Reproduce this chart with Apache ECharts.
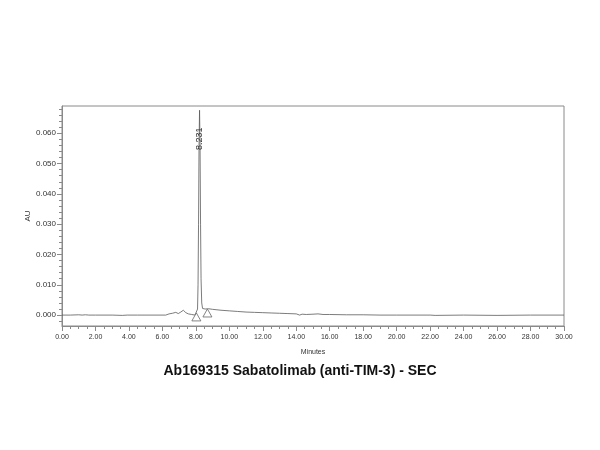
<!DOCTYPE html>
<html>
<head>
<meta charset="utf-8">
<script src="https://cdn.jsdelivr.net/npm/echarts@6/dist/echarts.min.js"></script>
<style>
  html, body { margin: 0; padding: 0; background: #fff; }
  #main { width: 600px; height: 450px; }
</style>
</head>
<body>
<div id="main"></div>
<script>
"use strict";

// chromatogram trace (minutes / AU)
var times = [
  0.0, 0.5, 1.0, 1.2, 1.4, 1.6, 2.0, 3.0, 3.6, 3.9, 4.5, 5.5,
  6.2, 6.4, 6.6, 6.8, 6.95, 7.1, 7.25, 7.4, 7.55, 7.75, 7.95,
  8.06, 8.1, 8.13, 8.16, 8.19, 8.22, 8.25, 8.28, 8.31, 8.35, 8.4,
  8.55, 8.75, 9.0, 9.5, 10.0, 10.5, 11.0, 11.5, 12.0, 12.5, 13.0,
  13.5, 14.0, 14.2, 14.35, 14.6, 15.0, 15.3, 15.6, 16.0, 17.0,
  18.0, 19.0, 20.0, 22.0, 22.3, 24.0, 26.0, 28.0, 30.0
];
var absorbance = [
  0.0, 0.0, 0.0001, 0.0, 0.0001, 0.0, 0.0, 0.0, -0.0001, 0.0, 0.0, 0.0,
  0.0, 0.0004, 0.0006, 0.0009, 0.0005, 0.001, 0.0016, 0.0008, 0.0004, 0.0002, 0.0,
  0.0003, 0.002, 0.01, 0.03, 0.056, 0.0676, 0.056, 0.03, 0.012, 0.004, 0.0022,
  0.002, 0.0021, 0.0019, 0.0016, 0.0014, 0.0012, 0.001, 0.0009, 0.0008, 0.0007, 0.0006,
  0.0005, 0.0004, 0.0, 0.0003, 0.0002, 0.0003, 0.0004, 0.0002, 0.0002, 0.0001,
  0.0001, 0.0, 0.0, 0.0, -0.0001, 0.0, -0.0001, 0.0, 0.0
];

var peakTime = 8.231;
var peakLabel = "8.231";
var peakLabelAU = 0.0582;
// integration start / end markers [minutes, AU]
var baselineMarks = [[8.03, -0.0006], [8.69, 0.0007]];

var yMajorTicks = [0, 0.01, 0.02, 0.03, 0.04, 0.05, 0.06];
var yMinorTicks = [
  -0.002, 0.002, 0.004, 0.006, 0.008, 0.012, 0.014, 0.016, 0.018,
  0.022, 0.024, 0.026, 0.028, 0.032, 0.034, 0.036, 0.038,
  0.042, 0.044, 0.046, 0.048, 0.052, 0.054, 0.056, 0.058,
  0.062, 0.064, 0.066, 0.068
];
var yMin = -0.0036;
var yMax = 0.069;

var chartTitle = "Ab169315 Sabatolimab (anti-TIM-3) - SEC";

var trace = times.map(function (t, i) { return [t, absorbance[i]]; });

var font = "Liberation Sans";
var frameColor = "#8a8a8a";

var markData = [{
  coord: [peakTime, peakLabelAU],
  symbol: "circle",
  symbolSize: 0,
  label: {
    show: true,
    formatter: peakLabel,
    position: "inside",
    rotate: 90,
    color: "#333",
    fontSize: 9,
    fontFamily: font
  }
}];
baselineMarks.forEach(function (m) {
  markData.push({
    coord: m,
    symbol: "triangle",
    symbolSize: [9, 8],
    itemStyle: { color: "#fff", borderColor: "#666", borderWidth: 0.8 },
    label: { show: false }
  });
});

var myChart = echarts.init(document.getElementById("main"));
var option = {
  backgroundColor: "#fff",
  animation: false,
  title: {
    text: chartTitle,
    left: "center",
    top: 359,
    textStyle: { fontFamily: font, fontSize: 14, fontWeight: "bold", color: "#111" }
  },
  grid: {
    left: 62,
    right: 36,
    top: 106,
    bottom: 124,
    show: true,
    borderColor: frameColor,
    borderWidth: 1,
    backgroundColor: "#fff"
  },
  xAxis: {
    type: "value",
    min: 0,
    max: 30,
    interval: 2,
    name: "Minutes",
    nameLocation: "middle",
    nameGap: 23,
    nameMoveOverlap: false,
    nameTextStyle: { fontFamily: font, fontSize: 7, color: "#333" },
    axisLine: { onZero: false, lineStyle: { color: frameColor, width: 1 } },
    axisTick: { length: 5, lineStyle: { color: frameColor } },
    minorTick: { show: true, splitNumber: 4, length: 3, lineStyle: { color: frameColor } },
    axisLabel: {
      fontFamily: font, fontSize: 7, color: "#333", margin: 8,
      formatter: function (v) { return v.toFixed(2); }
    },
    splitLine: { show: false }
  },
  yAxis: [{
    type: "value",
    position: "left",
    min: yMin,
    max: yMax,
    name: "AU",
    nameLocation: "middle",
    nameGap: 30,
    nameMoveOverlap: false,
    nameTextStyle: { fontFamily: font, fontSize: 8, color: "#333" },
    axisLine: { show: true, onZero: false, lineStyle: { color: frameColor, width: 1 } },
    axisTick: { show: true, length: 5, customValues: yMajorTicks, lineStyle: { color: frameColor } },
    axisLabel: {
      customValues: yMajorTicks,
      fontFamily: font, fontSize: 8, color: "#333", margin: 6,
      formatter: function (v) { return v.toFixed(3); }
    },
    splitLine: { show: false }
  }, {
    type: "value",
    position: "left",
    min: yMin,
    max: yMax,
    axisLine: { show: false, onZero: false },
    axisTick: { show: true, length: 3, customValues: yMinorTicks, lineStyle: { color: frameColor } },
    axisLabel: { show: false },
    splitLine: { show: false }
  }],
  series: [{
    type: "line",
    data: trace,
    yAxisIndex: 0,
    symbol: "none",
    lineStyle: { color: "#5a5a5a", width: 0.8 },
    markPoint: { data: markData, animation: false }
  }]
};
option && myChart.setOption(option);
</script>
</body>
</html>
